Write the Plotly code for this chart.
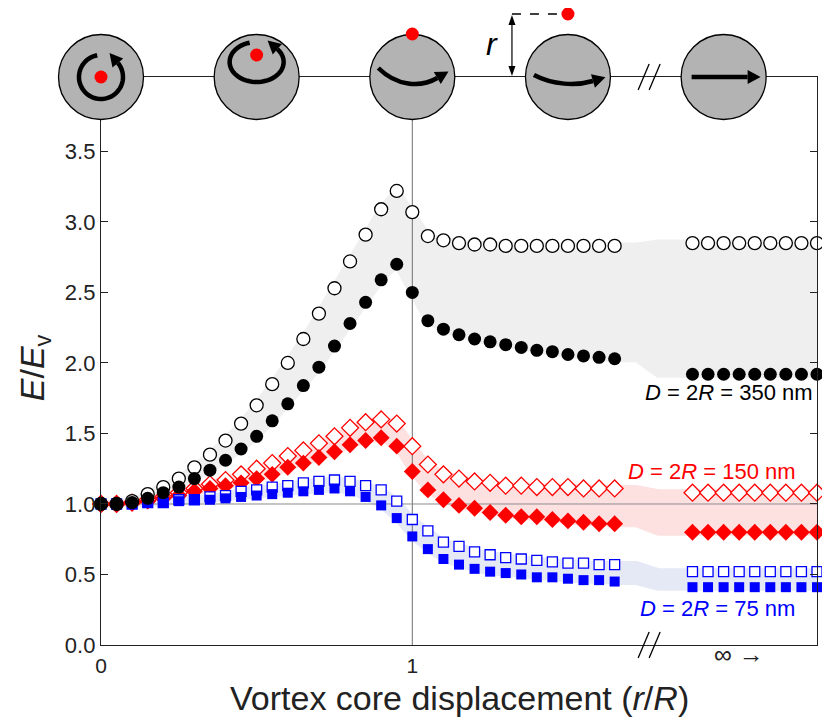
import numpy as np
import plotly.graph_objects as go

# r/R positions; the last group stands for r -> infinity (drawn after the axis break)
X_FIN = [0.0, 0.05, 0.1, 0.15, 0.2, 0.25, 0.3, 0.35, 0.4, 0.45, 0.5, 0.55, 0.6, 0.65,
         0.7, 0.75, 0.8, 0.85, 0.9, 0.95, 1.0, 1.05, 1.1, 1.15, 1.2, 1.25, 1.3, 1.35,
         1.4, 1.45, 1.5, 1.55, 1.6, 1.65]
X_INF = [1.9, 1.95, 2.0, 2.05, 2.1, 2.15, 2.2, 2.25, 2.3]
GAP_X = [1.72, 1.79]   # where the shaded bands bridge the break

# D = 350 nm
BLACK_OPEN = [1.00, 1.00, 1.02, 1.07, 1.12, 1.18, 1.26, 1.35, 1.45, 1.57, 1.70, 1.85,
              2.00, 2.17, 2.35, 2.53, 2.72, 2.91, 3.09, 3.22, 3.07, 2.90, 2.87, 2.85,
              2.84, 2.84, 2.83, 2.83, 2.83, 2.83, 2.83, 2.83, 2.83, 2.83]
BLACK_OPEN_INF = [2.85] * 9
BLACK_FILL = [1.00, 1.00, 1.01, 1.04, 1.08, 1.12, 1.18, 1.24, 1.31, 1.39, 1.48, 1.59,
              1.71, 1.84, 1.97, 2.12, 2.28, 2.43, 2.59, 2.70, 2.50, 2.30, 2.24, 2.20,
              2.17, 2.15, 2.13, 2.11, 2.09, 2.08, 2.06, 2.05, 2.04, 2.03]
BLACK_FILL_INF = [1.92] * 9

# D = 150 nm
RED_OPEN = [1.00, 1.00, 1.01, 1.03, 1.05, 1.08, 1.11, 1.14, 1.17, 1.21, 1.25, 1.29,
            1.34, 1.38, 1.43, 1.48, 1.54, 1.58, 1.60, 1.57, 1.41, 1.28, 1.21, 1.18,
            1.16, 1.15, 1.13, 1.13, 1.12, 1.12, 1.12, 1.11, 1.11, 1.11]
RED_OPEN_INF = [1.08] * 9
RED_FILL = [1.00, 1.00, 1.01, 1.02, 1.04, 1.06, 1.09, 1.11, 1.13, 1.15, 1.18, 1.21,
            1.26, 1.29, 1.33, 1.37, 1.42, 1.45, 1.47, 1.41, 1.23, 1.10, 1.03, 0.99,
            0.97, 0.94, 0.92, 0.91, 0.91, 0.89, 0.88, 0.87, 0.86, 0.86]
RED_FILL_INF = [0.80] * 9

# D = 75 nm
BLUE_OPEN = [1.00, 1.00, 1.00, 1.01, 1.01, 1.03, 1.03, 1.05, 1.06, 1.09, 1.10, 1.12,
             1.13, 1.15, 1.16, 1.17, 1.16, 1.13, 1.10, 1.02, 0.89, 0.81, 0.73, 0.70,
             0.66, 0.64, 0.62, 0.61, 0.60, 0.59, 0.58, 0.58, 0.57, 0.57]
BLUE_OPEN_INF = [0.52] * 9
BLUE_FILL = [1.00, 1.00, 1.00, 1.01, 1.01, 1.02, 1.03, 1.03, 1.04, 1.05, 1.06, 1.07,
             1.08, 1.09, 1.10, 1.11, 1.09, 1.05, 0.99, 0.90, 0.77, 0.68, 0.61, 0.57,
             0.54, 0.52, 0.51, 0.50, 0.48, 0.48, 0.47, 0.46, 0.46, 0.45]
BLUE_FILL_INF = [0.41] * 9

Y_TICKS = [0.0, 0.5, 1.0, 1.5, 2.0, 2.5, 3.0, 3.5]
X_TICKS = [0, 1]
X_TICK_TEXT = ["0", "1"]
ICON_X = [0.0, 0.5, 1.0, 1.5, 2.0]
BREAK_X = 1.764
X_MAX = 2.3
Y_MAX = 4.028

FONT = "Liberation Sans, Arial, sans-serif"
BLUE = "#0000ff"
RED = "#ff0000"

fig = go.Figure()


def add_band(upper, upper_inf, lower, lower_inf, color):
    xb = X_FIN + GAP_X + X_INF
    ub = upper + [upper[-1], upper_inf[0]] + upper_inf
    lb = lower + [lower[-1], lower_inf[0]] + lower_inf
    fig.add_trace(go.Scatter(x=xb, y=ub, mode="lines", line=dict(color=color, width=7),
                             hoverinfo="skip"))
    fig.add_trace(go.Scatter(x=xb, y=lb, mode="lines", line=dict(color=color, width=7),
                             fill="tonexty", fillcolor=color, hoverinfo="skip"))


add_band(BLACK_OPEN, BLACK_OPEN_INF, BLACK_FILL, BLACK_FILL_INF, "#efefef")
add_band(RED_OPEN, RED_OPEN_INF, RED_FILL, RED_FILL_INF, "#fde1e1")
add_band(BLUE_OPEN, BLUE_OPEN_INF, BLUE_FILL, BLUE_FILL_INF, "#e5e9f6")

# reference lines at r = R and E = Ev
fig.add_trace(go.Scatter(x=[1, 1], y=[0, Y_MAX], mode="lines",
                         line=dict(color="#707070", width=1), hoverinfo="skip"))
fig.add_trace(go.Scatter(x=[0, X_MAX], y=[1, 1], mode="lines",
                         line=dict(color="#8c8c8c", width=1), hoverinfo="skip"))


def add_series(y_fin, y_inf, symbol, size, color, hollow):
    marker = dict(symbol=symbol, size=size)
    if hollow:
        marker.update(color="white", line=dict(color=color, width=1.3))
    else:
        marker.update(color=color, line=dict(width=0))
    fig.add_trace(go.Scatter(x=X_FIN + X_INF, y=y_fin + y_inf, mode="markers",
                             marker=marker, cliponaxis=False))


add_series(RED_OPEN, RED_OPEN_INF, "diamond", 13, RED, True)
add_series(RED_FILL, RED_FILL_INF, "diamond", 13, RED, False)
add_series(BLUE_OPEN, BLUE_OPEN_INF, "square", 10, BLUE, True)
add_series(BLUE_FILL, BLUE_FILL_INF, "square", 10, BLUE, False)
add_series(BLACK_OPEN, BLACK_OPEN_INF, "circle", 13, "black", True)
add_series(BLACK_FILL, BLACK_FILL_INF, "circle", 13, "black", False)


# ---- icons along the top edge (pixel offsets from an anchor, y up) ----
def path_str(points, close=False):
    s = "M" + " L".join(f"{x:.1f},{y:.1f}" for x, y in points)
    return s + (" Z" if close else "")


def head_path(base, direction, length=13, width=14):
    dx, dy = direction
    n = np.hypot(dx, dy)
    dx, dy = dx / n, dy / n
    bx, by = base
    tip = (bx + dx * length, by + dy * length)
    left = (bx - dy * width / 2, by + dx * width / 2)
    right = (bx + dy * width / 2, by - dx * width / 2)
    return path_str([tip, left, right], close=True)


shapes = []


def pix_shape(xa, ya, path, fill=None, width=0, color="black", dash=None):
    line = dict(color=color, width=width)
    if dash:
        line["dash"] = dash
    shapes.append(dict(type="path", xref="paper", yref="paper",
                       xsizemode="pixel", ysizemode="pixel", xanchor=xa, yanchor=ya,
                       path=path, fillcolor=fill or "rgba(0,0,0,0)", line=line,
                       layer="above"))


def pix_circle(xa, ya, cx, cy, r, fill, width=0, color="black"):
    shapes.append(dict(type="circle", xref="paper", yref="paper",
                       xsizemode="pixel", ysizemode="pixel", xanchor=xa, yanchor=ya,
                       x0=cx - r, x1=cx + r, y0=cy - r, y1=cy + r,
                       fillcolor=fill, line=dict(color=color, width=width),
                       layer="above"))


def arc_arrow(xa, cx, cy, rx, ry, a0, a1):
    t = np.radians(np.linspace(a0, a1, 60))
    pts = list(zip(cx + rx * np.cos(t), cy + ry * np.sin(t)))
    pix_shape(xa, 1, path_str(pts), width=4.5)
    te = t[-1]
    pix_shape(xa, 1, head_path(pts[-1], (-rx * np.sin(te), ry * np.cos(te))), fill="black")


def bezier_arrow(xa, p0, c1, c2, p1):
    pix_shape(xa, 1, f"M{p0[0]},{p0[1]} C{c1[0]},{c1[1]} {c2[0]},{c2[1]} {p1[0]},{p1[1]}",
              width=4.5)
    pix_shape(xa, 1, head_path(p1, (p1[0] - c2[0], p1[1] - c2[1])), fill="black")


icon_xp = [v / X_MAX for v in ICON_X]
for xa in icon_xp:
    pix_circle(xa, 1, 0, 0, 42.5, "#b3b3b3", width=1.3)

arc_arrow(icon_xp[0], 0, 0, 22, 22, 100, 400)
pix_circle(icon_xp[0], 1, 0, 0, 6.5, RED)

arc_arrow(icon_xp[1], 0, 15, 27, 20, 105, 400)
pix_circle(icon_xp[1], 1, 0, 22, 6.5, RED)

bezier_arrow(icon_xp[2], (-34, 9), (-16, -9), (8, -11), (25, -1))
pix_circle(icon_xp[2], 1, 0, 43, 6.5, RED)

bezier_arrow(icon_xp[3], (-34, 2), (-15, -8), (8, -9), (25, -4))
pix_circle(icon_xp[3], 1, 0, 63, 6.5, RED)

pix_shape(icon_xp[4], 1, path_str([(-32, 0), (24, 0)]), width=4.5)
pix_shape(icon_xp[4], 1, head_path((24, 0), (1, 0)), fill="black")

# r dimension next to the fourth icon
pix_shape(icon_xp[3], 1, path_str([(-56, 10), (-56, 53)]), width=1.2)
pix_shape(icon_xp[3], 1, head_path((-56, 11), (0, -1), length=10, width=7), fill="black")
pix_shape(icon_xp[3], 1, head_path((-56, 52), (0, 1), length=10, width=7), fill="black")
pix_shape(icon_xp[3], 1, path_str([(-56, 63), (-8, 63)]), width=1.5, dash="dash")

# axis break marks
for ya in (0, 1):
    pix_shape(BREAK_X / X_MAX, ya, path_str([(-12, -13), (-1, 13)]), width=1.3)
    pix_shape(BREAK_X / X_MAX, ya, path_str([(-1, -13), (10, 13)]), width=1.3)

annotations = [
    dict(x=icon_xp[3], y=1, xref="paper", yref="paper", xshift=-76, yshift=33,
         xanchor="center", yanchor="middle",
         text="<i>r</i>", font=dict(size=32, color="black"), showarrow=False),
    dict(x=2.293, y=1.79, xref="x", yref="y", xanchor="right", showarrow=False,
         text="<i>D</i> = 2<i>R</i> = 350 nm", font=dict(size=22, color="black")),
    dict(x=2.239, y=1.23, xref="x", yref="y", xanchor="right", showarrow=False,
         text="<i>D</i> = 2<i>R</i> = 150 nm", font=dict(size=22, color=RED)),
    dict(x=2.236, y=0.26, xref="x", yref="y", xanchor="right", showarrow=False,
         text="<i>D</i> = 2<i>R</i> = 75 nm", font=dict(size=22, color=BLUE)),
    dict(x=2.05, y=0, xref="x", yref="paper", yshift=-25, showarrow=False,
         text="∞ →", font=dict(size=25, color="#222")),
    dict(x=0.5, y=-0.093, xref="paper", yref="paper", yanchor="middle", showarrow=False,
         text="Vortex core displacement (<i>r</i>/<i>R</i>)", font=dict(size=34, color="#222")),
    dict(x=-0.093, y=0.488, xref="paper", yref="paper", xanchor="center", yanchor="middle",
         textangle=-90, showarrow=False,
         text="<i>E</i>/<i>E</i><sub>v</sub>", font=dict(size=34, color="#222")),
]

# the page adds an 8 px body margin, so margins are set 8 px smaller on top/left
fig.update_layout(
    width=830, height=720,
    margin=dict(l=93, r=21, t=69, b=83),
    paper_bgcolor="white", plot_bgcolor="white",
    showlegend=False,
    font=dict(family=FONT, color="#222"),
    shapes=shapes,
    annotations=annotations,
    xaxis=dict(range=[0, X_MAX], tickvals=X_TICKS, ticktext=X_TICK_TEXT, ticks="",
               showgrid=False, zeroline=False, showline=True, linecolor="#222",
               linewidth=1.3, mirror=True, tickfont=dict(size=21), ticklabelstandoff=2),
    yaxis=dict(range=[0, Y_MAX], tickvals=Y_TICKS, ticktext=[f"{v:.1f}" for v in Y_TICKS],
               ticks="inside", ticklen=7, tickwidth=1.3, tickcolor="#222",
               showgrid=False, zeroline=False, showline=True, linecolor="#222",
               linewidth=1.3, mirror="ticks", tickfont=dict(size=22)),
)

fig.write_html("out.html")
